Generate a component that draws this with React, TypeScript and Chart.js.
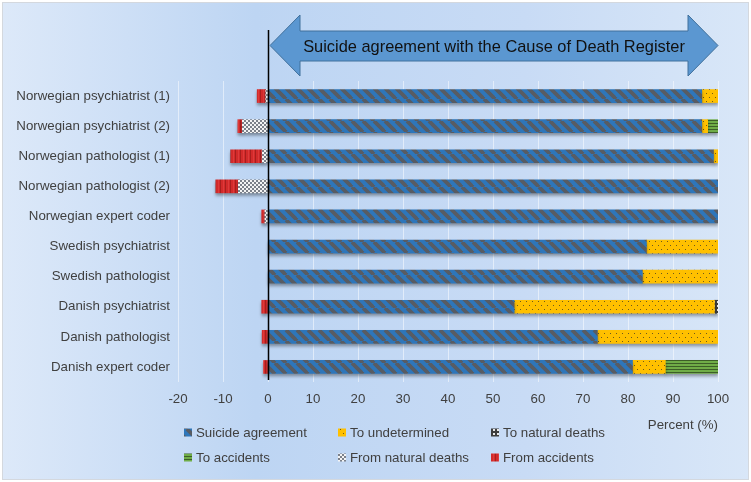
import React, { useEffect, useRef } from 'react';
import { Chart, registerables } from 'chart.js';

Chart.register(...registerables);

const categories = [
  'Norwegian psychiatrist (1)',
  'Norwegian psychiatrist (2)',
  'Norwegian pathologist (1)',
  'Norwegian pathologist (2)',
  'Norwegian expert coder',
  'Swedish psychiatrist',
  'Swedish pathologist',
  'Danish psychiatrist',
  'Danish pathologist',
  'Danish expert coder',
];

const suicideAgreement = [96.4, 96.4, 99.0, 100, 100, 84.1, 83.2, 54.7, 73.2, 81.0];
const toUndetermined = [3.6, 1.3, 1.0, 0, 0, 15.9, 16.8, 44.5, 26.8, 7.3];
const toNaturalDeaths = [0, 0, 0, 0, 0, 0, 0, 0.8, 0, 0];
const toAccidents = [0, 2.3, 0, 0, 0, 0, 0, 0, 0, 11.7];
const fromNaturalDeaths = [-0.5, -5.7, -1.3, -6.6, -0.7, 0, 0, 0, 0, 0];
const fromAccidents = [-1.9, -1.0, -7.0, -5.0, -0.7, 0, 0, -1.4, -1.3, -1.0];

const seriesNames = [
  'Suicide agreement',
  'To undetermined',
  'To natural deaths',
  'To accidents',
  'From natural deaths',
  'From accidents',
];

const xMin = -20;
const xMax = 100;
const xStep = 10;
const xTitle = 'Percent (%)';
const arrowText = 'Suicide agreement with the Cause of Death Register';

const FONT = '"Liberation Sans", Arial, sans-serif';
const TEXT = '#404040';

function makePattern(w: number, h: number, draw: (g: CanvasRenderingContext2D) => void) {
  const c = document.createElement('canvas');
  c.width = w;
  c.height = h;
  const g = c.getContext('2d')!;
  draw(g);
  return g.createPattern(c, 'repeat')!;
}

function buildPatterns() {
  const blue = makePattern(11, 11, (g) => {
    g.fillStyle = '#2e76ba';
    g.fillRect(0, 0, 11, 11);
    g.strokeStyle = '#585c63';
    g.lineWidth = 3.8;
    for (const x0 of [-11, 0, 11]) {
      g.beginPath();
      g.moveTo(x0, 0);
      g.lineTo(x0 + 11, 11);
      g.stroke();
    }
  });
  const yellow = makePattern(6, 8, (g) => {
    g.fillStyle = '#ffc000';
    g.fillRect(0, 0, 6, 8);
    g.fillStyle = '#6e5a1a';
    g.fillRect(1, 1, 1, 1);
    g.fillRect(4, 5, 1, 1);
  });
  const natural = makePattern(4, 4, (g) => {
    g.fillStyle = '#3d3d3d';
    g.fillRect(0, 0, 4, 4);
    g.fillStyle = '#e8e8e8';
    g.fillRect(1, 1, 2, 2);
  });
  const green = makePattern(4, 3, (g) => {
    g.fillStyle = '#70ad47';
    g.fillRect(0, 0, 4, 3);
    g.fillStyle = '#3d5f27';
    g.fillRect(0, 0, 4, 1);
  });
  const checker = makePattern(4, 4, (g) => {
    g.fillStyle = '#f4f4f4';
    g.fillRect(0, 0, 4, 4);
    g.fillStyle = '#7c818a';
    g.fillRect(0, 0, 2, 2);
    g.fillRect(2, 2, 2, 2);
  });
  const red = makePattern(5, 1, (g) => {
    g.fillStyle = '#d22a2a';
    g.fillRect(0, 0, 5, 1);
    g.fillStyle = '#a81e1e';
    g.fillRect(0, 0, 1, 1);
    g.fillStyle = '#de3a3a';
    g.fillRect(3, 0, 1, 1);
  });
  return [blue, yellow, natural, green, checker, red];
}

const decorPlugin = {
  id: 'decor',
  beforeDraw(chart: any) {
    const { ctx, width, height } = chart;
    ctx.save();
    ctx.fillStyle = '#ffffff';
    ctx.fillRect(0, 0, width, height);
    const grad = ctx.createLinearGradient(0, 0, width, 0);
    grad.addColorStop(0, '#dde9f9');
    grad.addColorStop(0.34, '#bdd5f3');
    grad.addColorStop(0.7, '#c8dbf5');
    grad.addColorStop(1, '#d9e7f8');
    ctx.fillStyle = grad;
    ctx.fillRect(2, 2, width - 4, height - 4);
    ctx.strokeStyle = '#d4d8de';
    ctx.lineWidth = 1;
    ctx.strokeRect(2.5, 2.5, width - 5, height - 5);
    ctx.restore();
  },
  beforeDatasetsDraw(chart: any) {
    const ctx = chart.ctx;
    ctx.save();
    ctx.shadowColor = 'rgba(0,0,0,0.35)';
    ctx.shadowBlur = 3;
    ctx.shadowOffsetX = 0;
    ctx.shadowOffsetY = 2.5;
  },
  afterDatasetsDraw(chart: any) {
    const ctx = chart.ctx;
    ctx.restore();
    const x = chart.scales.x;
    const x0 = Math.round(x.getPixelForValue(0)) + 0.5;
    ctx.save();
    ctx.strokeStyle = '#000000';
    ctx.lineWidth = 1.5;
    ctx.beginPath();
    ctx.moveTo(x0, 30);
    ctx.lineTo(x0, chart.chartArea.bottom - 2);
    ctx.stroke();
    ctx.restore();
  },
  afterDraw(chart: any) {
    const { ctx, chartArea } = chart;
    const x = chart.scales.x;
    const left = x.getPixelForValue(0) + 2;
    const right = x.getPixelForValue(100);
    const head = 30;
    const midY = 45.5;
    const headTop = 15;
    const headBot = 76;
    const shaftTop = 31;
    const shaftBot = 61;
    ctx.save();
    ctx.beginPath();
    ctx.moveTo(left, midY);
    ctx.lineTo(left + head, headTop);
    ctx.lineTo(left + head, shaftTop);
    ctx.lineTo(right - head, shaftTop);
    ctx.lineTo(right - head, headTop);
    ctx.lineTo(right, midY);
    ctx.lineTo(right - head, headBot);
    ctx.lineTo(right - head, shaftBot);
    ctx.lineTo(left + head, shaftBot);
    ctx.lineTo(left + head, headBot);
    ctx.closePath();
    ctx.fillStyle = '#5b97d1';
    ctx.fill();
    ctx.strokeStyle = '#41719c';
    ctx.lineWidth = 1;
    ctx.stroke();
    ctx.fillStyle = '#111111';
    ctx.font = `16.4px ${FONT}`;
    ctx.textAlign = 'center';
    ctx.textBaseline = 'middle';
    ctx.fillText(arrowText, (left + right) / 2, 47.5);

    ctx.fillStyle = TEXT;
    ctx.font = `13.3px ${FONT}`;
    ctx.textAlign = 'right';
    ctx.fillText(xTitle, chartArea.right, 425);

    const cols = [184, 338, 491];
    const rows = [432.5, 457.5];
    chart.data.datasets.forEach((ds: any, i: number) => {
      const cx = cols[i % 3];
      const cy = rows[Math.floor(i / 3)];
      ctx.fillStyle = ds.backgroundColor;
      ctx.fillRect(cx, cy - 4, 8, 8);
      ctx.fillStyle = TEXT;
      ctx.textAlign = 'left';
      ctx.fillText(ds.label, cx + 12, cy + 0.5);
    });
    ctx.restore();
  },
};

export default function App() {
  const ref = useRef<HTMLCanvasElement | null>(null);

  useEffect(() => {
    if (!ref.current) return;
    const patterns = buildPatterns();
    const values = [
      suicideAgreement,
      toUndetermined,
      toNaturalDeaths,
      toAccidents,
      fromNaturalDeaths,
      fromAccidents,
    ];
    const chart = new Chart(ref.current, {
      type: 'bar',
      data: {
        labels: categories,
        datasets: values.map((v, i) => ({
          label: seriesNames[i],
          data: v.map((d) => (d === 0 ? null : d)),
          backgroundColor: patterns[i] as any,
          borderWidth: 0,
          barThickness: 13,
          stack: 's',
        })),
      },
      options: {
        indexAxis: 'y',
        responsive: false,
        animation: false,
        layout: { padding: { top: 81, right: 33, left: 0, bottom: 0 } },
        plugins: {
          legend: { display: false },
          tooltip: { enabled: false },
        },
        scales: {
          x: {
            stacked: true,
            min: xMin,
            max: xMax,
            ticks: {
              stepSize: xStep,
              color: TEXT,
              font: { family: FONT, size: 13.3 },
              padding: 9,
            },
            grid: { color: 'rgba(255,255,255,0.5)', drawTicks: false, lineWidth: 1 },
            border: { display: false },
            afterFit: (s: any) => {
              s.height = 100;
            },
          },
          y: {
            stacked: true,
            ticks: {
              color: TEXT,
              font: { family: FONT, size: 13.3 },
              padding: 8,
            },
            grid: { display: false, drawTicks: false },
            border: { display: false },
            afterFit: (s: any) => {
              s.width = 178;
            },
          },
        },
      },
      plugins: [decorPlugin],
    });
    return () => chart.destroy();
  }, []);

  return (
    <div style={{ position: 'fixed', left: 0, top: 0, width: 751, height: 482 }}>
      <canvas ref={ref} width={751} height={482} />
    </div>
  );
}
